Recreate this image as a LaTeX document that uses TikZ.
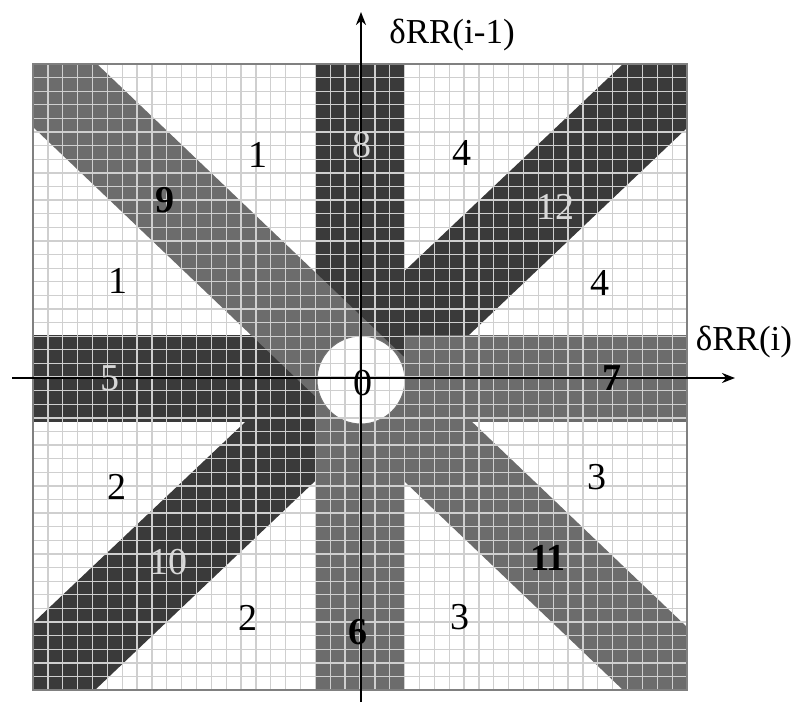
\documentclass[tikz,border=0pt]{standalone}
\usepackage{fontspec}
\setmainfont{Liberation Serif}
\usetikzlibrary{arrows.meta}
\definecolor{darkband}{HTML}{3A3A3A}
\definecolor{medband}{HTML}{6C6C6C}
\definecolor{gridc}{HTML}{CFCFCF}
\definecolor{lighttext}{HTML}{D8D8D8}
\begin{document}
\begin{tikzpicture}[x=1pt,y=-1pt,
  num/.style={font=\fontsize{38}{40}\selectfont, inner sep=0pt},
  bnum/.style={font=\fontsize{38}{40}\selectfont\bfseries, inner sep=0pt},
  lnum/.style={num, text=lighttext},
  axlab/.style={font=\fontsize{35}{38}\selectfont, inner sep=0pt},
  axisline/.style={line width=2.5pt, -{Stealth[length=13pt,width=10pt]}},
  gridline/.style={gridc, line width=1.3pt},
  holestyle/.style={circle, minimum size=88pt, inner sep=0pt, fill=white, draw=black!55, line width=1pt}
]
\useasboundingbox (0,0) rectangle (798,702);
\fill[white] (0,0) rectangle (798,702);
% bands
\fill[darkband] (33,690) -- (33,623) -- (623,64) -- (687,64) -- (687,128) -- (95,690) -- cycle;
\fill[darkband] (33,335) rectangle (361,422);
\fill[medband] (361,335) rectangle (687,422);
\fill[darkband] (315,64) rectangle (405,380);
\fill[medband] (315,380) rectangle (405,690);
\fill[medband] (33,64) -- (97,64) -- (687,627) -- (687,690) -- (623,690) -- (33,127) -- cycle;
% central hole
\node[holestyle] (hole) at (361,380) {};
% grid
\foreach \i in {1,...,43} {
  \draw[gridline] ({33+\i*14.864},64) -- ({33+\i*14.864},690);
}
\foreach \j in {1,...,45} {
  \draw[gridline] (33,{64+\j*13.61}) -- (687,{64+\j*13.61});
}
\draw[black!50, line width=1.5pt] (33,64) rectangle (687,690);
% axes
\coordinate (xs) at (12,378);
\coordinate (xe) at (735,378);
\coordinate (ys) at (361,702);
\coordinate (ye) at (361,12);
\draw[axisline] (xs) -- (xe);
\draw[axisline] (ys) -- (ye);
\node[axlab] (ylab) at (452,35) {δRR(i-1)};
\node[axlab] (xlab) at (744,342) {δRR(i)};
% region labels
\node[num] (r1a) at (258,155) {1};
\node[num] (r1b) at (118,281) {1};
\node[bnum] (r9) at (165,200) {9};
\node[lnum] (r8) at (362,145) {8};
\node[num] (r4a) at (462,153) {4};
\node[num] (r4b) at (600,283) {4};
\node[lnum] (r12) at (555,207) {12};
\node[lnum] (r5) at (110,378) {5};
\node[num] (r0) at (363,383) {0};
\node[bnum] (r7) at (612,378) {7};
\node[num] (r2a) at (117,487) {2};
\node[num] (r2b) at (248,618) {2};
\node[lnum] (r10) at (168,562) {10};
\node[bnum] (r6) at (358,632) {6};
\node[num] (r3a) at (597,477) {3};
\node[num] (r3b) at (460,617) {3};
\node[bnum] (r11) at (548,558) {11};
\end{tikzpicture}
\end{document}
